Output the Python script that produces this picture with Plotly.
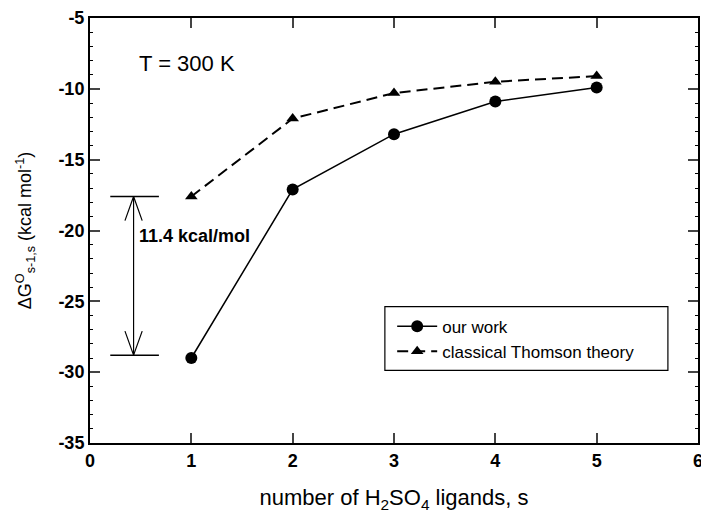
import plotly.graph_objects as go

s_values = [1, 2, 3, 4, 5]
our_work = [-29.0, -17.1, -13.2, -10.9, -9.9]
thomson = [-17.6, -12.1, -10.3, -9.5, -9.1]
gap_top = -17.6
gap_bottom = -28.8
gap_x = 0.43
gap_line_x = [0.2, 0.68]
gap_label = "11.4 kcal/mol"
temp_label = "T = 300 K"
x_ticks = [0, 1, 2, 3, 4, 5, 6]
x_tick_labels = ["0", "1", "2", "3", "4", "5", "6"]
y_ticks = [-35, -30, -25, -20, -15, -10, -5]
y_tick_labels = ["-35", "-30", "-25", "-20", "-15", "-10", "-5"]

FONT = "Liberation Sans, Arial, Helvetica, sans-serif"

fig = go.Figure()
fig.add_trace(go.Scatter(
    x=s_values, y=our_work, name="our work", mode="lines+markers",
    line=dict(color="black", width=1.5),
    marker=dict(symbol="circle", size=12, color="black"),
))
fig.add_trace(go.Scatter(
    x=s_values, y=thomson, name="classical Thomson theory", mode="lines+markers",
    line=dict(color="black", width=2, dash="11px,6px"),
    marker=dict(symbol="triangle-up", size=11, color="black"),
))

# gap indicator: horizontal bars
for yv in (gap_top, gap_bottom):
    fig.add_trace(go.Scatter(x=gap_line_x, y=[yv, yv], mode="lines",
                             line=dict(color="black", width=1.5),
                             showlegend=False, hoverinfo="skip"))
# vertical line
fig.add_trace(go.Scatter(x=[gap_x, gap_x], y=[gap_top, gap_bottom], mode="lines",
                         line=dict(color="black", width=1.2),
                         showlegend=False, hoverinfo="skip"))
# open V arrow heads
hw, hl = 0.085, 1.7
fig.add_trace(go.Scatter(
    x=[gap_x - hw, gap_x, gap_x + hw, None, gap_x - hw, gap_x, gap_x + hw],
    y=[gap_top - hl, gap_top, gap_top - hl, None, gap_bottom + hl, gap_bottom, gap_bottom + hl],
    mode="lines", line=dict(color="black", width=1.2),
    showlegend=False, hoverinfo="skip"))

fig.add_annotation(x=gap_x + 0.03, y=-20.4, text="<b>" + gap_label + "</b>",
                   showarrow=False, xanchor="left", yanchor="middle",
                   font=dict(size=18, color="black", family=FONT))
fig.add_annotation(x=0.46, y=-8.2, text=temp_label, showarrow=False,
                   xanchor="left", yanchor="middle",
                   font=dict(size=22, color="black", family=FONT))

# legend frame
fig.add_shape(type="rect", xref="paper", yref="paper",
              x0=0.485, x1=0.9505, y0=0.171, y1=0.321,
              line=dict(color="black", width=1.2), fillcolor="rgba(0,0,0,0)")

fig.update_layout(
    width=701, height=515,
    margin=dict(l=90, r=3, t=18, b=72),
    plot_bgcolor="white", paper_bgcolor="white",
    font=dict(family=FONT, color="black"),
    legend=dict(x=0.497, y=0.316, xanchor="left", yanchor="top",
                borderwidth=0, bgcolor="rgba(0,0,0,0)",
                font=dict(size=17, color="black", family=FONT),
                itemwidth=40, tracegroupgap=0),
)
fig.update_xaxes(
    range=[0, 6], tickvals=x_ticks, ticktext=["<b>%s</b>" % t for t in x_tick_labels],
    ticks="inside", ticklen=10, tickwidth=1.5, ticklabeloverflow="allow",
    mirror="ticks", showline=True, linecolor="black", linewidth=2,
    showgrid=False, zeroline=False, automargin=False,
    tickfont=dict(size=18, family=FONT, color="black"),
    title=dict(text="number of H<sub>2</sub>SO<sub>4</sub> ligands, s",
               font=dict(size=22, family=FONT, color="black"), standoff=20),
)
fig.update_yaxes(
    range=[-35, -5], tickvals=y_ticks, ticktext=["<b>%s</b>" % t for t in y_tick_labels],
    ticks="inside", ticklen=10, tickwidth=1.5, ticklabeloverflow="allow",
    mirror="ticks", showline=True, linecolor="black", linewidth=2,
    showgrid=False, zeroline=False, automargin=False,
    minor=dict(dtick=1, ticks="inside", ticklen=3, tickwidth=1, tickcolor="black", showgrid=False),
    tickfont=dict(size=18, family=FONT, color="black"),
    title=dict(text="ΔG<sup>O</sup><sub>s-1,s</sub> (kcal mol<sup>-1</sup>)",
               font=dict(size=18, family=FONT, color="black"), standoff=22),
)

fig.write_html("out.html", config={"responsive": False, "displayModeBar": False},
               post_script="document.body.style.margin='0';document.body.style.overflow='hidden';")
